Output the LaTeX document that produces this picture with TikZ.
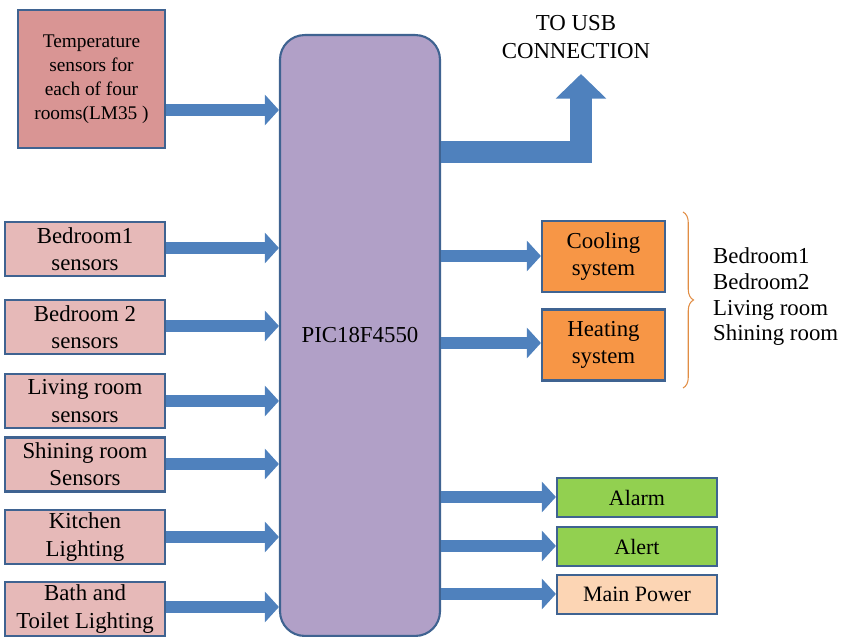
\documentclass[tikz,border=0pt]{standalone}
\usepackage{fontspec}
\setmainfont{Liberation Serif}
\usetikzlibrary{arrows.meta,calc,decorations.pathreplacing}
\definecolor{bordc}{HTML}{3F6391}
\definecolor{arrc}{HTML}{4F81BD}
\definecolor{tempc}{HTML}{D99594}
\definecolor{sensc}{HTML}{E6B9B8}
\definecolor{picc}{HTML}{B1A0C7}
\definecolor{orc}{HTML}{F79646}
\definecolor{grc}{HTML}{92D050}
\definecolor{pwc}{HTML}{FCD5B4}
\begin{document}
\begin{tikzpicture}[x=0.02cm,y=-0.02cm,
    box/.style={draw=bordc, line width=1.2pt, align=center, inner sep=0pt, font=\fontsize{13}{15.5}\selectfont},
    sens/.style={box, fill=sensc, minimum width=3.2cm, minimum height=1.08cm},
    outbox/.style={box, fill=orc, minimum width=2.46cm, minimum height=1.42cm},
    smallbox/.style={box, minimum width=3.2cm, minimum height=0.78cm, font=\fontsize{12.5}{15}\selectfont},
    barrow/.style={arrc, line width=6.8pt, -{Triangle[width=17pt,length=8pt]}},
    bigarrow/.style={arrc, line width=12.5pt, line join=miter, -{Triangle[width=28pt,length=14pt]}}
]
\useasboundingbox (0,0) rectangle (850,641);
% PIC
\node[box, fill=picc, rounded corners=14pt, minimum width=3.2cm, minimum height=12.02cm] (pic) at (360,335.5) {PIC18F4550};
% inputs
\node[box, fill=tempc, minimum width=2.94cm, minimum height=2.76cm, font=\fontsize{11}{13.6}\selectfont] (temp) at (91.5,79) {Temperature\\sensors for\\each of four\\rooms(LM35 )};
\node[sens] (bed1) at (85,249) {Bedroom1\\sensors};
\node[sens] (bed2) at (85,327) {Bedroom 2\\sensors};
\node[sens] (liv) at (85,401) {Living room\\sensors};
\node[sens] (shin) at (85,464.5) {Shining room\\Sensors};
\node[sens] (kit) at (85,537) {Kitchen\\Lighting};
\node[sens] (bath) at (85,609) {Bath and\\Toilet Lighting};
\foreach \n/\y in {temp/110, bed1/248, bed2/326, liv/401, shin/464, kit/537, bath/607}
  \draw[barrow] (\n.east |- 0,\y) -- (pic.west |- 0,\y);
% outputs
\node[outbox] (cool) at (603.5,256.5) {Cooling\\system};
\node[outbox] (heat) at (603.5,345) {Heating\\system};
\node[smallbox, fill=grc] (alarm) at (637,497.5) {Alarm};
\node[smallbox, fill=grc] (alert) at (637,546.5) {Alert};
\node[smallbox, fill=pwc] (power) at (637,594.5) {Main Power};
\foreach \n/\y in {cool/256, heat/343, alarm/497, alert/546, power/594}
  \draw[barrow] (pic.east |- 0,\y) -- (\n.west |- 0,\y);
% USB
\node[font=\fontsize{13}{16}\selectfont, align=center] (usb) at (576,37) {TO USB\\CONNECTION};
\coordinate (usbtip) at (581,74);
\draw[bigarrow] (pic.east |- 0,152) -| (usbtip);
% brace and rooms
\coordinate (bt) at (683,212);
\coordinate (bb) at (683,388);
\draw[decorate, decoration={brace, amplitude=6pt}, draw=orc!60!brown, line width=0.6pt] (bt) -- (bb);
\node[align=left, anchor=west, font=\fontsize{13}{14.6}\selectfont] (rooms) at (707,297) {Bedroom1\\Bedroom2\\Living room\\Shining room};
\end{tikzpicture}
\end{document}
